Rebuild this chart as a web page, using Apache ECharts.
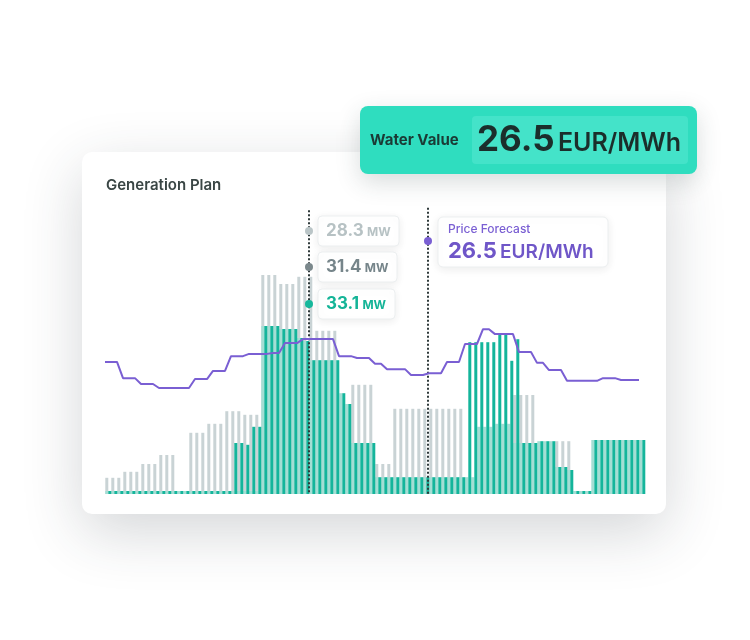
<!DOCTYPE html>
<html><head><meta charset="utf-8">
<script src="https://cdn.jsdelivr.net/npm/echarts@6/dist/echarts.min.js"></script>
<style>html,body{margin:0;padding:0;background:#fff}#c{width:750px;height:640px}</style>
</head><body><div id="c"></div>
<script>
// 90 time slots
const slotCount = 90;
// Scenario plan (grey, MW)
const planGrey = [2.7,2.7,2.7,3.7,3.7,3.7,5.0,5.0,5.0,6.5,6.5,6.5,0,0,10.2,10.2,10.2,11.7,11.7,11.7,
  13.8,13.8,13.8,13.2,13.2,13.2,36.5,36.5,36.5,35.0,35.0,35.0,36.2,36.2,36.2,27.2,27.2,27.2,27.2,0,
  0,18.2,18.2,18.2,18.2,5.0,5.0,5.0,14.2,14.2,14.2,14.2,14.2,14.2,14.2,14.2,14.2,14.2,14.2,14.2,
  0,0,0,0,0,0,0,0,16.5,16.5,16.5,16.5,0,0,0,8.8,8.8,8.8,0,0,0,0,0,0,0,0,0,0,0,0];
// Alternative plan (light teal, MW)
const planLight = [0.5,0.5,0.5,0.5,0.5,0.5,0.5,0.5,0.5,0.5,0.5,0.5,0.5,0.5,0.5,0.5,0.5,0.5,0.5,0.5,
  0.5,0.5,0.5,0.5,0.5,0.5,28.0,28.0,28.0,27.5,27.5,27.5,26.0,25.5,22.3,22.3,22.3,22.3,22.3,16.8,
  15.0,8.5,8.5,8.5,8.5,2.8,2.8,2.8,2.8,2.8,2.8,2.8,2.8,2.8,2.8,2.8,2.8,2.8,2.8,2.8,
  2.8,2.8,11.2,11.2,11.2,11.7,11.7,11.7,8.5,8.5,8.5,8.5,8.8,8.8,8.8,4.5,4.5,4.0,0.5,0.5,
  0.5,9.0,9.0,9.0,9.0,9.0,9.0,9.0,9.0,9.0];
// Generation plan (teal, MW)
const planTeal = [0.5,0.5,0.5,0.5,0.5,0.5,0.5,0.5,0.5,0.5,0.5,0.5,0.5,0.5,0.5,0.5,0.5,0.5,0.5,0.5,
  0.5,8.5,8.5,8.2,11.2,11.2,28.0,28.0,28.0,27.5,27.5,27.5,26.0,25.5,22.3,22.3,22.3,22.3,22.3,16.8,
  15.0,8.5,8.5,8.5,8.5,2.8,2.8,2.8,2.8,2.8,2.8,2.8,2.8,2.8,2.8,2.8,2.8,2.8,2.8,2.8,
  25.3,25.3,25.3,25.3,25.3,26.5,26.5,22.2,25.8,8.5,8.5,8.5,8.8,8.8,8.8,4.5,4.5,4.0,0.5,0.5,
  0.5,9.0,9.0,9.0,9.0,9.0,9.0,9.0,9.0,9.0];
// Price forecast (EUR/MWh)
const priceForecast = [29.4,29.4,29.4,25.8,25.8,25.8,24.5,24.5,24.5,23.6,23.6,23.6,23.6,23.6,23.6,
  25.6,25.6,25.6,27.4,27.4,27.4,30.7,30.7,30.7,31.2,31.2,31.2,31.2,31.4,31.4,
  33.6,33.6,33.6,34.5,34.5,34.5,34.5,34.5,34.5,30.7,30.7,30.7,30.3,30.3,30.3,
  29.0,29.0,27.8,27.8,27.8,27.8,26.5,26.5,26.5,26.9,26.9,26.9,29.4,29.4,29.4,
  33.4,33.4,33.4,36.7,36.7,35.6,35.6,35.6,35.6,31.6,31.6,31.6,29.2,29.2,27.6,
  27.6,27.6,25.2,25.2,25.2,25.2,25.2,25.2,25.8,25.8,25.8,25.4,25.4,25.4,25.4];
// Cursor readouts
const cursorSlot = 34, priceCursorSlot = 53.8;
const readouts = ['28.3', '31.4', '33.1'];
const readUnit = 'MW';
const priceReadout = '26.5', priceUnit = 'EUR/MWh';
const waterValue = '26.5';

const FONT = 'Inter, "Noto Sans", sans-serif';
const chart = echarts.init(document.getElementById('c'), null, {renderer: 'canvas'});

const posA = 0.3, posB = 0.8;
const mk = (arr, off) => arr.map((v, i) => [i + off, v]);

const boxes = [
  {y: 216, w: 81, color: '#b7c2c4', dot: '#bac5c7'},
  {y: 252, w: 79, color: '#76858a', dot: '#7b888c'},
  {y: 289, w: 77, color: '#14b497', dot: '#17b89c'}
];
const graphics = [
  {type: 'rect', z: -5, shape: {x: 82, y: 152, width: 584, height: 362, r: 10},
   style: {fill: '#fff', shadowBlur: 60, shadowColor: 'rgba(40,50,60,0.20)', shadowOffsetY: 18}},
  {type: 'text', z: 10, style: {x: 106, y: 185, text: 'Generation Plan', font: '600 15px ' + FONT, fill: '#3a4645', verticalAlign: 'middle'}},
  // Water value badge
  {type: 'rect', z: 50, shape: {x: 360, y: 106, width: 337, height: 68, r: 8},
   style: {fill: '#2fddbf', shadowBlur: 24, shadowColor: 'rgba(40,60,60,0.18)', shadowOffsetY: 8}},
  {type: 'rect', z: 51, shape: {x: 472, y: 116, width: 216, height: 48, r: 4}, style: {fill: '#44e3c9'}},
  {type: 'text', z: 52, style: {x: 370, y: 140, text: 'Water Value', font: '700 15px ' + FONT, fill: '#1b3a35', verticalAlign: 'middle'}},
  {type: 'text', z: 52, style: {x: 477, y: 140, verticalAlign: 'middle',
    text: '{a|' + waterValue + '} {b|' + priceUnit + '}',
    rich: {a: {font: '700 35px ' + FONT, fill: '#1b2e2b'}, b: {font: '600 25px ' + FONT, fill: '#1b2e2b', padding: [6, 0, 0, 0]}}}},
  // price box
  {type: 'rect', z: 40, shape: {x: 438, y: 217, width: 170, height: 50, r: 5},
   style: {fill: '#fff', stroke: '#eceff0', lineWidth: 1, shadowBlur: 10, shadowColor: 'rgba(0,0,0,0.08)', shadowOffsetY: 2}},
  {type: 'text', z: 41, style: {x: 448, y: 229, text: 'Price Forecast', font: '500 12px ' + FONT, fill: '#7a5fd3', verticalAlign: 'middle'}},
  {type: 'text', z: 41, style: {x: 448, y: 251, verticalAlign: 'middle',
    text: '{a|' + priceReadout + '} {b|' + priceUnit + '}',
    rich: {a: {font: '700 22px ' + FONT, fill: '#6f56c8'}, b: {font: '600 19px ' + FONT, fill: '#6f56c8', padding: [2, 0, 0, 0]}}}},
  {type: 'circle', z: 42, shape: {cx: 428, cy: 241, r: 4}, style: {fill: '#7a5fd3'}}
];
boxes.forEach((b, k) => {
  graphics.push({type: 'rect', z: 40, shape: {x: 318, y: b.y, width: b.w, height: 30, r: 4},
    style: {fill: '#fff', stroke: '#eceff0', lineWidth: 1, shadowBlur: 8, shadowColor: 'rgba(0,0,0,0.08)', shadowOffsetY: 2}});
  graphics.push({type: 'text', z: 41, style: {x: 326, y: b.y + 15, verticalAlign: 'middle',
    text: '{a|' + readouts[k] + '} {b|' + readUnit + '}',
    rich: {a: {font: '700 17px ' + FONT, fill: b.color}, b: {font: '700 12px ' + FONT, fill: b.color, padding: [3, 0, 0, 0]}}}});
  graphics.push({type: 'circle', z: 42, shape: {cx: 309, cy: b.y + 15, r: 4}, style: {fill: b.dot}});
});

chart.setOption({
  animation: false,
  grid: {left: 105, top: 194, width: 540, height: 300},
  xAxis: {type: 'value', min: 0, max: slotCount, show: false},
  yAxis: [{type: 'value', min: 0, max: 50, show: false}, {type: 'value', min: 0, max: 66.8, show: false}],
  graphic: graphics,
  series: [
    {type: 'bar', name: 'grey', data: mk(planGrey, posA), barWidth: 3, barGap: '-100%', z: 2,
     itemStyle: {color: '#c9d3d5'}},
    {type: 'bar', name: 'light', data: mk(planLight, posA), barWidth: 3, barGap: '-100%', z: 3,
     itemStyle: {color: '#a4ded4'}},
    {type: 'bar', name: 'teal', data: mk(planTeal, posB), barWidth: 3, barGap: '-100%', z: 4,
     itemStyle: {color: '#14b59b'},
     markLine: {silent: true, symbol: 'none', label: {show: false},
       lineStyle: {color: '#2f3a3b', width: 2, type: [2, 2]},
       data: [[{coord: [cursorSlot, 47.3]}, {coord: [cursorSlot, 0]}],
              [{coord: [priceCursorSlot, 47.7]}, {coord: [priceCursorSlot, 0]}]]}},
    {type: 'line', name: 'price', yAxisIndex: 1, data: priceForecast.map((v, i) => [i, v]),
     symbol: 'none', z: 6, lineStyle: {color: '#7a5fd3', width: 2}}
  ]
});
</script></body></html>
